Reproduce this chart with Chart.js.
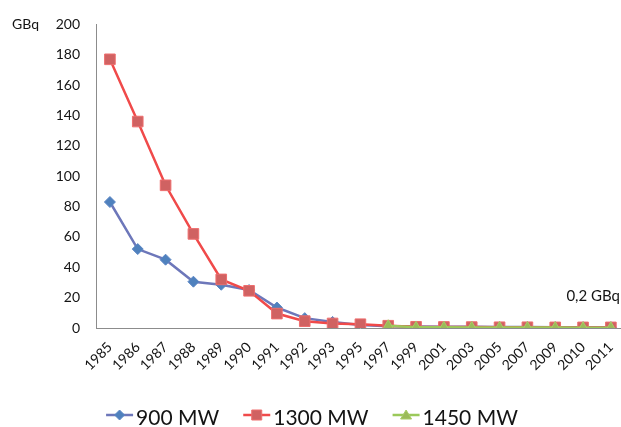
<!DOCTYPE html>
<html>
<head>
<meta charset="utf-8">
<script src="https://cdn.jsdelivr.net/npm/chart.js@4/dist/chart.umd.min.js"></script>
<style>
  html, body { margin: 0; padding: 0; overflow: hidden; background: #fff; }
  canvas { display: block; }
</style>
</head>
<body>
<canvas id="chart" width="634" height="427"></canvas>
<script>
// data
const years = ['1985', '1986', '1987', '1988', '1989', '1990', '1991', '1992', '1993', '1995',
  '1997', '1999', '2001', '2003', '2005', '2007', '2009', '2010', '2011'];
const mw900 = [83, 52, 45, 30.5, 28.5, 25, 13.5, 6.5, 4, 2,
  1.2, 1, 0.9, 0.8, 0.7, 0.6, 0.5, 0.5, 0.5];
const mw1300 = [177, 136, 94, 62, 32, 24.5, 9.5, 4.5, 3, 2.5,
  1.5, 0.8, 0.7, 0.6, 0.5, 0.5, 0.4, 0.4, 0.4];
const mw1450 = [null, null, null, null, null, null, null, null, null, null,
  1.5, 0.5, 0.5, 0.4, 0.4, 0.3, 0.3, 0.2, 0.2];
const seriesNames = ['900 MW', '1300 MW', '1450 MW'];
const yMin = 0, yMax = 200, yStep = 20;
const unitLabel = 'GBq';
const noteLabel = '0,2 GBq';

const textColor = '#141414';
Chart.defaults.font.family = 'Lato, sans-serif';
Chart.defaults.color = textColor;

function drawMarker(ctx, style, x, y, fill, stroke) {
  ctx.fillStyle = fill;
  ctx.strokeStyle = stroke;
  ctx.lineWidth = 1;
  ctx.beginPath();
  if (style === 'rectRot') {
    ctx.moveTo(x, y - 5); ctx.lineTo(x + 5, y); ctx.lineTo(x, y + 5); ctx.lineTo(x - 5, y);
  } else if (style === 'rect') {
    ctx.rect(x - 5, y - 5, 10, 10);
  } else {
    ctx.moveTo(x, y - 5); ctx.lineTo(x + 5.5, y + 4); ctx.lineTo(x - 5.5, y + 4);
  }
  ctx.closePath();
  ctx.fill();
  ctx.stroke();
}

const extras = {
  id: 'extras',
  afterDraw(chart) {
    const ctx = chart.ctx;
    ctx.save();
    ctx.fillStyle = textColor;
    ctx.font = '14px Lato';
    ctx.textBaseline = 'alphabetic';
    ctx.textAlign = 'left';
    ctx.fillText(unitLabel, 12, 29);
    ctx.font = '15px Lato';
    ctx.textAlign = 'right';
    ctx.fillText(noteLabel, 620, 301);

    // legend: line + marker + label, centred under the plot
    ctx.font = '21px Lato';
    const lineW = 27, gap = 3, itemGap = 24;
    const ds = chart.data.datasets;
    const widths = ds.map(d => lineW + gap + ctx.measureText(d.label).width);
    const total = widths.reduce((a, b) => a + b, 0) + itemGap * (ds.length - 1);
    let x = 312 - total / 2;
    const y = 415;
    ds.forEach((d, i) => {
      ctx.strokeStyle = d.borderColor;
      ctx.lineWidth = 2.5;
      ctx.beginPath();
      ctx.moveTo(x, y);
      ctx.lineTo(x + lineW, y);
      ctx.stroke();
      drawMarker(ctx, d.pointStyle, x + lineW / 2, y, d.pointBackgroundColor, d.pointBorderColor);
      ctx.fillStyle = textColor;
      ctx.textAlign = 'left';
      ctx.fillText(d.label, x + lineW + gap, 425);
      x += widths[i] + itemGap;
    });
    ctx.restore();
  }
};

new Chart(document.getElementById('chart'), {
  type: 'line',
  data: {
    labels: years,
    datasets: [
      {
        label: seriesNames[0],
        data: mw900,
        order: 3,
        borderColor: '#6d77ba',
        borderWidth: 2.5,
        pointStyle: 'rectRot',
        pointRadius: 5.5,
        pointBackgroundColor: '#4f81bd',
        pointBorderColor: '#5b86c4',
        pointBorderWidth: 1,
        tension: 0,
      },
      {
        label: seriesNames[1],
        data: mw1300,
        order: 2,
        borderColor: '#f04a4a',
        borderWidth: 2.5,
        pointStyle: 'rect',
        pointRadius: 7.5,
        pointBackgroundColor: '#d06262',
        pointBorderColor: '#ee6e6e',
        pointBorderWidth: 1,
        tension: 0,
      },
      {
        label: seriesNames[2],
        data: mw1450,
        order: 1,
        borderColor: '#9bc95a',
        borderWidth: 2.5,
        pointStyle: 'triangle',
        pointRadius: 6,
        pointBackgroundColor: '#9bbb59',
        pointBorderColor: '#a8cc66',
        pointBorderWidth: 1,
        tension: 0,
      },
    ],
  },
  options: {
    responsive: false,
    animation: false,
    layout: { padding: { top: 20, right: 1, bottom: 0, left: 0 } },
    plugins: {
      legend: { display: false },
      tooltip: { enabled: false },
    },
    scales: {
      x: {
        offset: true,
        grid: { display: false, drawTicks: false },
        border: { color: '#8c8c8c', width: 1 },
        ticks: {
          autoSkip: false,
          maxRotation: 45,
          minRotation: 45,
          padding: 11,
          font: { size: 14 },
          color: textColor,
        },
        afterFit: (scale) => { scale.height = 99; },
      },
      y: {
        min: yMin,
        max: yMax,
        grid: { display: false, drawTicks: false },
        border: { color: '#8c8c8c', width: 1 },
        ticks: {
          stepSize: yStep,
          padding: 16,
          font: { size: 14 },
          color: textColor,
        },
        afterFit: (scale) => { scale.width = 96; },
      },
    },
  },
  plugins: [extras],
});
</script>
</body>
</html>
